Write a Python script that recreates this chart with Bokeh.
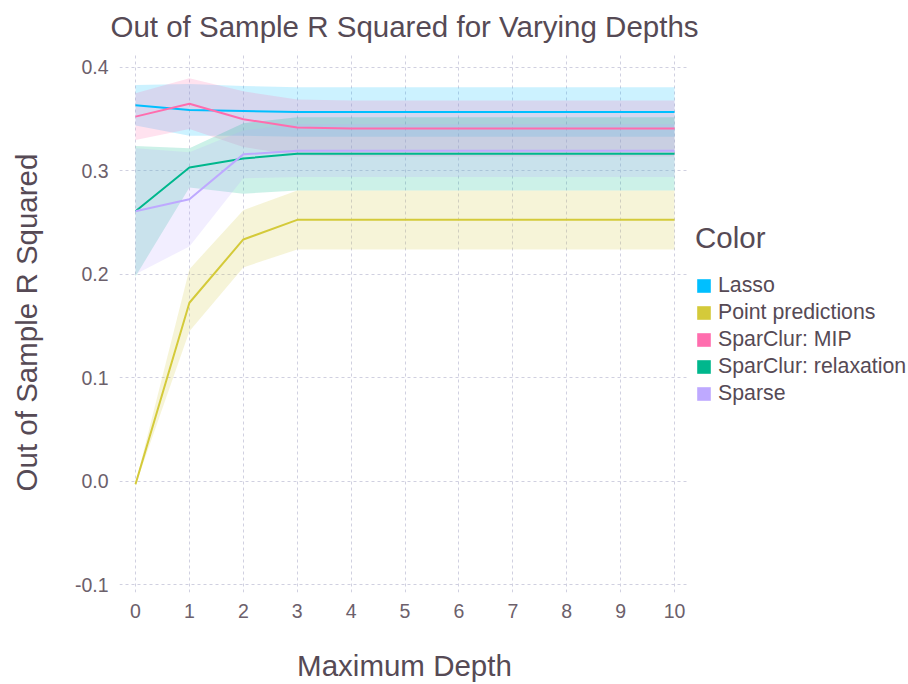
from bokeh.plotting import figure
from bokeh.models import Range1d, FixedTicker, Legend, LegendItem
from bokeh.embed import file_html
from bokeh.resources import INLINE

# ---- data ----
depth = [0, 1, 2, 3, 4, 5, 6, 7, 8, 9, 10]

lasso_mean = [0.3635, 0.359, 0.358, 0.357, 0.357, 0.357, 0.357, 0.357, 0.357, 0.357, 0.357]
lasso_lo = [0.344, 0.334, 0.334, 0.333, 0.333, 0.333, 0.333, 0.333, 0.333, 0.333, 0.333]
lasso_hi = [0.383, 0.384, 0.382, 0.381, 0.381, 0.381, 0.381, 0.381, 0.381, 0.381, 0.381]

point_mean = [-0.003, 0.1725, 0.2337, 0.2527, 0.2527, 0.2527, 0.2527, 0.2527, 0.2527, 0.2527, 0.2527]
point_lo = [-0.004, 0.145, 0.2067, 0.224, 0.224, 0.224, 0.224, 0.224, 0.224, 0.224, 0.224]
point_hi = [-0.002, 0.205, 0.262, 0.281, 0.281, 0.281, 0.281, 0.281, 0.281, 0.281, 0.281]

mip_mean = [0.3525, 0.365, 0.350, 0.342, 0.341, 0.341, 0.341, 0.341, 0.341, 0.341, 0.341]
mip_lo = [0.330, 0.3405, 0.323, 0.315, 0.314, 0.314, 0.314, 0.314, 0.314, 0.314, 0.314]
mip_hi = [0.375, 0.3895, 0.377, 0.369, 0.368, 0.368, 0.368, 0.368, 0.368, 0.368, 0.368]

relax_mean = [0.261, 0.3033, 0.312, 0.3165, 0.3165, 0.3165, 0.3165, 0.3165, 0.3165, 0.3165, 0.3165]
relax_lo = [0.198, 0.284, 0.278, 0.281, 0.281, 0.281, 0.281, 0.281, 0.281, 0.281, 0.281]
relax_hi = [0.324, 0.322, 0.346, 0.352, 0.352, 0.352, 0.352, 0.352, 0.352, 0.352, 0.352]

sparse_mean = [0.261, 0.2725, 0.316, 0.3195, 0.3195, 0.3195, 0.3195, 0.3195, 0.3195, 0.3195, 0.3195]
sparse_lo = [0.200, 0.227, 0.293, 0.294, 0.294, 0.294, 0.294, 0.294, 0.294, 0.294, 0.294]
sparse_hi = [0.322, 0.318, 0.339, 0.345, 0.345, 0.345, 0.345, 0.345, 0.345, 0.345, 0.345]

series_names = ["Lasso", "Point predictions", "SparClur: MIP", "SparClur: relaxation", "Sparse"]
series_colors = ["#00BFFF", "#D4CA3A", "#FF6DAE", "#00B78D", "#BEA9FF"]
series_mean = [lasso_mean, point_mean, mip_mean, relax_mean, sparse_mean]
series_lo = [lasso_lo, point_lo, mip_lo, relax_lo, sparse_lo]
series_hi = [lasso_hi, point_hi, mip_hi, relax_hi, sparse_hi]

x_ticks = [0, 1, 2, 3, 4, 5, 6, 7, 8, 9, 10]
y_ticks = [-0.1, 0.0, 0.1, 0.2, 0.3, 0.4]
y_tick_labels = ["-0.1", "0.0", "0.1", "0.2", "0.3", "0.4"]

FONT = "Liberation Sans"
LABEL_COLOR = "#564A55"
TICK_COLOR = "#6C606B"

p = figure(frame_width=570, frame_height=540, output_backend="svg", toolbar_location=None,
           x_range=Range1d(-0.297, 10.278), y_range=Range1d(-0.1077, 0.4145),
           min_border_left=119, min_border_right=0, min_border_top=52, min_border_bottom=92,
           title="Out of Sample R Squared for Varying Depths")
p.outline_line_color = None
p.background_fill_color = "white"

# ribbons first
for c, lo, hi in zip(series_colors, series_lo, series_hi):
    p.varea(x=depth, y1=lo, y2=hi, fill_color=c, fill_alpha=0.2)

for c, m in zip(series_colors, series_mean):
    p.line(x=depth, y=m, line_color=c, line_width=2)

# legend keys: zero-area quads (draw nothing in the plot, give the legend its swatch)
items = []
for name, c, m in zip(series_names, series_colors, series_mean):
    r = p.quad(left=depth[:1], right=depth[:1], top=m[:1], bottom=m[:1],
               fill_color=c, line_color=None)
    items.append(LegendItem(label=name, renderers=[r]))
legend = Legend(items=items, location=(6, 186), title="Color")
legend.margin = 0
legend.padding = 0
legend.border_line_color = None
legend.background_fill_alpha = 0
legend.glyph_width = 17
legend.glyph_height = 17
legend.label_standoff = 6
legend.label_text_font = FONT
legend.label_text_font_size = "21.3px"
legend.label_text_color = LABEL_COLOR
legend.label_height = 17
legend.spacing = 2
legend.title_text_font = FONT
legend.title_text_font_size = "29.5px"
legend.title_text_font_style = "normal"
legend.title_text_color = LABEL_COLOR
legend.title_standoff = 18
p.add_layout(legend, "right")

# title
p.title.align = "center"
p.title.vertical_align = "top"
p.title.text_font = FONT
p.title.text_font_size = "29.5px"
p.title.text_font_style = "normal"
p.title.text_color = LABEL_COLOR
p.title.text_line_height = 0.8
p.title.standoff = 16

# axes
for ax in (p.xaxis[0], p.yaxis[0]):
    ax.axis_line_color = None
    ax.major_tick_line_color = None
    ax.minor_tick_line_color = None
    ax.major_tick_out = 0
    ax.major_tick_in = 0
    ax.major_label_text_font = FONT
    ax.major_label_text_font_size = "19.5px"
    ax.major_label_text_color = TICK_COLOR
    ax.axis_label_text_font = FONT
    ax.axis_label_text_font_size = "29.5px"
    ax.axis_label_text_font_style = "normal"
    ax.axis_label_text_color = LABEL_COLOR

p.xaxis[0].ticker = FixedTicker(ticks=x_ticks)
p.yaxis[0].ticker = FixedTicker(ticks=y_ticks)
p.yaxis[0].major_label_overrides = {t: l for t, l in zip(y_ticks, y_tick_labels)}
p.xaxis[0].axis_label = "Maximum Depth"
p.yaxis[0].axis_label = "Out of Sample R Squared"
p.xaxis[0].major_label_standoff = 11
p.yaxis[0].major_label_standoff = 11
p.xaxis[0].axis_label_standoff = 28
p.yaxis[0].axis_label_standoff = 29

for g in (p.xgrid[0], p.ygrid[0]):
    g.grid_line_color = "#D0D0E0"
    g.grid_line_dash = "3 3"
    g.grid_line_width = 1
p.xgrid[0].ticker = FixedTicker(ticks=x_ticks)
p.ygrid[0].ticker = FixedTicker(ticks=y_ticks)

open("out.html", "w").write(file_html(p, INLINE))
